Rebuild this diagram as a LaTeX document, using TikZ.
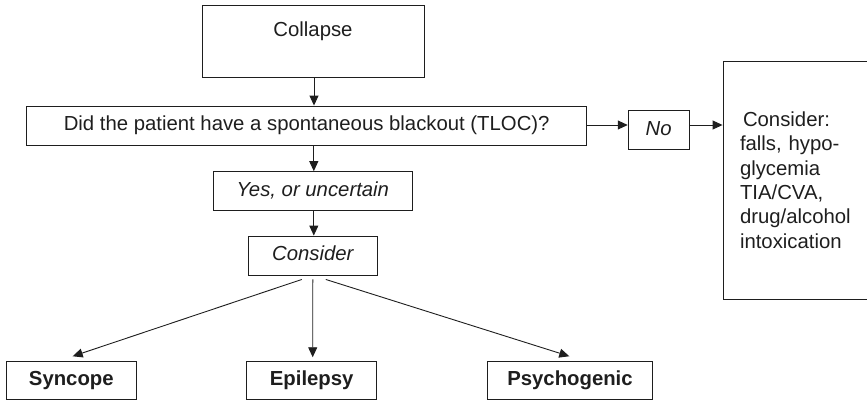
\documentclass[tikz,border=0pt]{standalone}
\usepackage{fontspec}
\setmainfont{Liberation Sans}
\usetikzlibrary{arrows.meta}

\definecolor{ink}{HTML}{1E1E1E}

\tikzset{
  box/.style={draw=ink, line width=0.9bp, inner sep=0pt, text=ink,
    font=\fontsize{20.4}{24.5}\selectfont, text height=15bp, text depth=4.5bp},
  arr/.style={draw=ink, line width=0.9bp, -{Triangle[length=10bp,width=9bp]}},
}

\begin{document}
\begin{tikzpicture}[x=1bp, y=-1bp]
  \clip (0,0) rectangle (867,400);

  % main column
  \node[box, minimum width=222bp, minimum height=72bp, text depth=24bp] (collapse) at (313,41) {Collapse};
  \node[box, minimum width=560bp, minimum height=39bp] (q) at (306.7,125.5)
    {Did the patient have a spontaneous blackout (TLOC)?};
  \node[box, minimum width=199bp, minimum height=38.3bp] (yes) at (312.8,190.8) {\itshape Yes, or uncertain};
  \node[box, minimum width=129.7bp, minimum height=39bp] (cons) at (312.8,255.5) {\itshape Consider};

  % "No" branch
  \node[box, minimum width=61bp, minimum height=38.6bp] (no) at (658.7,130) {\itshape No};
  \node[box, minimum width=152bp, minimum height=238bp, text width=118bp, inner xsep=17bp,
        align=left, text height=, text depth=] (other) at (799,180)
    {\hspace*{3bp}Consider:\\falls, hypo-\\glycemia\\TIA/CVA,\\drug/alcohol\\intoxication};

  % outcomes
  \node[box, font=\fontsize{20.4}{24.5}\selectfont\bfseries, minimum width=129.3bp, minimum height=37.6bp] (sync) at (71.3,380.5) {Syncope};
  \node[box, font=\fontsize{20.4}{24.5}\selectfont\bfseries, minimum width=130bp, minimum height=37.6bp] (epi) at (311.7,380.5) {Epilepsy};
  \node[box, font=\fontsize{20.4}{24.5}\selectfont\bfseries, minimum width=165.4bp, minimum height=37.6bp] (psy) at (570,380.5) {Psychogenic};

  % connectors
  \draw[arr] ([xshift=1bp]collapse.south) -- ([xshift=1bp]q.north -| collapse.south);
  \draw[arr] ([xshift=1bp]yes.north |- q.south) -- ([xshift=1bp]yes.north);
  \draw[arr] ([xshift=1bp]yes.south) -- ([xshift=1bp]cons.north);
  \draw[arr] ([yshift=0.5bp]q.east) -- ([yshift=0.5bp]q.east -| no.west);
  \draw[arr] ([yshift=0.5bp]no.east |- q.east) -- ([yshift=0.5bp]q.east -| other.west);

  \draw[arr] ([xshift=-11bp,yshift=-4bp]cons.south) -- ([xshift=1.4bp,yshift=5bp]sync.north);
  \draw[arr] ([yshift=-4bp]cons.south) -- ([xshift=1bp,yshift=4bp]epi.north);
  \draw[arr] ([xshift=13bp,yshift=-4bp]cons.south) -- ([xshift=-0.7bp,yshift=5bp]psy.north);
\end{tikzpicture}
\end{document}
